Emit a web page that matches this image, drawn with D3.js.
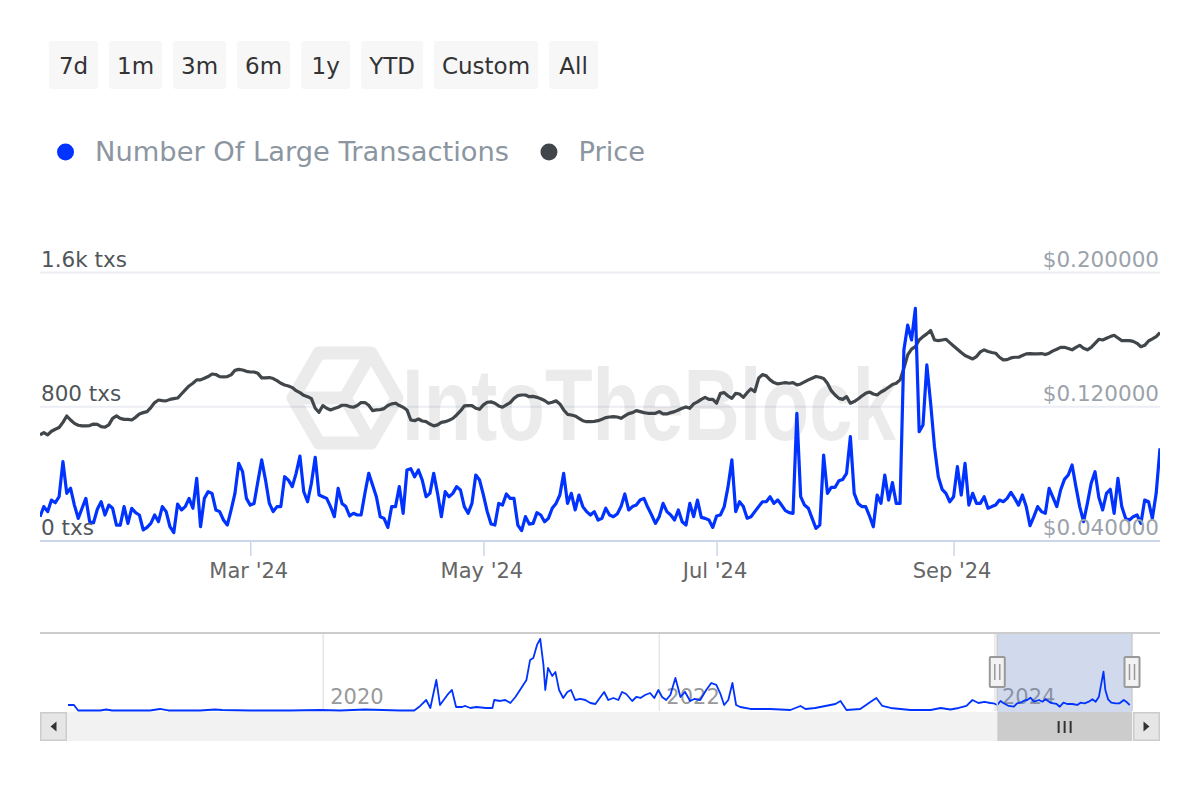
<!DOCTYPE html>
<html lang="en">
<head>
    <meta charset="UTF-8">
    <title>Number Of Large Transactions vs Price</title>
    <script src="https://d3js.org/d3.v7.min.js"></script>
    <style>
        body {
            margin: 0;
            background: #fff;
        }

        svg {
            display: block;
            font-family: "DejaVu Sans", Verdana, sans-serif;
        }
    </style>
</head>
<body>
    <div id="chart"></div>

    <script>
        // Range selector + legend
        const rangeButtons = ['7d', '1m', '3m', '6m', '1y', 'YTD', 'Custom', 'All'];
        const legendNames = ['Number Of Large Transactions', 'Price'];
        const seriesColors = ['#0033ff', '#41464b'];

        // Daily series, first day 2024-01-06
        const startDate = '2024-01-06';
        const endDate = '2024-10-25';

        const largeTxs = [
            145, 205, 175, 244, 228, 264, 473, 284, 314, 214,
            135, 195, 254, 115, 109, 189, 234, 155, 214, 195,
            95, 95, 205, 105, 195, 169, 155, 66, 81, 105,
            155, 115, 205, 175, 85, 50, 220, 185, 205, 254,
            195, 373, 85, 254, 294, 284, 185, 175, 125, 95,
            185, 284, 463, 413, 254, 214, 224, 354, 483, 363,
            224, 175, 205, 205, 383, 363, 324, 403, 506, 294,
            234, 344, 499, 274, 264, 254, 205, 145, 314, 224,
            205, 149, 165, 155, 155, 284, 403, 334, 264, 145,
            135, 81, 205, 205, 324, 165, 423, 431, 383, 423,
            363, 264, 284, 403, 284, 145, 294, 264, 284, 324,
            304, 205, 165, 224, 393, 363, 274, 175, 101, 95,
            224, 214, 280, 254, 254, 95, 62, 145, 101, 105,
            169, 155, 115, 135, 195, 224, 274, 403, 224, 284,
            185, 274, 205, 175, 155, 175, 125, 135, 195, 155,
            145, 161, 205, 280, 185, 205, 214, 244, 254, 201,
            155, 105, 145, 224, 175, 155, 125, 185, 115, 95,
            224, 145, 244, 141, 135, 125, 81, 149, 155, 205,
            324, 483, 175, 234, 205, 135, 145, 175, 205, 234,
            234, 264, 224, 244, 214, 181, 169, 165, 761, 264,
            214, 195, 135, 75, 95, 512, 284, 320, 320, 359,
            367, 403, 622, 284, 224, 205, 205, 149, 85, 274,
            224, 393, 244, 348, 224, 224, 1138, 1287, 1198, 1386,
            651, 691, 1049, 820, 562, 383, 308, 284, 234, 264,
            443, 274, 463, 214, 284, 224, 224, 264, 195, 205,
            214, 244, 234, 254, 290, 254, 214, 274, 205, 91,
            145, 205, 175, 165, 314, 260, 205, 304, 367, 393,
            453, 324, 205, 115, 224, 344, 413, 260, 185, 284,
            308, 165, 373, 205, 135, 125, 145, 155, 105, 244,
            234, 135, 284, 552
        ];

        const price = [
            0.1032, 0.1046, 0.1032, 0.1054, 0.1066, 0.1076, 0.1107, 0.1145, 0.1121, 0.1101,
            0.1090, 0.1086, 0.1086, 0.1088, 0.1097, 0.1095, 0.1082, 0.1078, 0.1092, 0.1131,
            0.1145, 0.1131, 0.1125, 0.1125, 0.1121, 0.1137, 0.1157, 0.1165, 0.1171, 0.1195,
            0.1225, 0.1240, 0.1237, 0.1235, 0.1244, 0.1248, 0.1252, 0.1276, 0.1300, 0.1324,
            0.1340, 0.1360, 0.1360, 0.1370, 0.1380, 0.1395, 0.1392, 0.1380, 0.1378, 0.1380,
            0.1390, 0.1417, 0.1423, 0.1419, 0.1411, 0.1407, 0.1407, 0.1399, 0.1372, 0.1372,
            0.1374, 0.1368, 0.1356, 0.1340, 0.1330, 0.1324, 0.1314, 0.1296, 0.1284, 0.1268,
            0.1260, 0.1248, 0.1191, 0.1167, 0.1207, 0.1191, 0.1181, 0.1189, 0.1197, 0.1209,
            0.1209, 0.1201, 0.1197, 0.1207, 0.1225, 0.1225, 0.1209, 0.1177, 0.1181, 0.1183,
            0.1189, 0.1207, 0.1217, 0.1221, 0.1207, 0.1197, 0.1181, 0.1121, 0.1117, 0.1127,
            0.1115, 0.1111, 0.1097, 0.1086, 0.1092, 0.1107, 0.1111, 0.1119, 0.1131, 0.1151,
            0.1175, 0.1205, 0.1207, 0.1207, 0.1191, 0.1185, 0.1211, 0.1227, 0.1229, 0.1221,
            0.1205, 0.1197, 0.1211, 0.1225, 0.1250, 0.1266, 0.1270, 0.1270, 0.1260, 0.1262,
            0.1256, 0.1248, 0.1237, 0.1221, 0.1227, 0.1235, 0.1217, 0.1181, 0.1155, 0.1151,
            0.1145, 0.1131, 0.1117, 0.1111, 0.1111, 0.1113, 0.1117, 0.1125, 0.1135, 0.1139,
            0.1141, 0.1139, 0.1131, 0.1145, 0.1159, 0.1165, 0.1177, 0.1171, 0.1165, 0.1161,
            0.1161, 0.1161, 0.1171, 0.1157, 0.1157, 0.1165, 0.1171, 0.1181, 0.1191, 0.1199,
            0.1191, 0.1217, 0.1229, 0.1244, 0.1256, 0.1244, 0.1244, 0.1221, 0.1280, 0.1284,
            0.1264, 0.1250, 0.1280, 0.1276, 0.1256, 0.1284, 0.1306, 0.1290, 0.1370, 0.1392,
            0.1384, 0.1360, 0.1344, 0.1336, 0.1340, 0.1344, 0.1340, 0.1344, 0.1330, 0.1336,
            0.1348, 0.1360, 0.1370, 0.1380, 0.1376, 0.1368, 0.1340, 0.1296, 0.1270, 0.1250,
            0.1244, 0.1260, 0.1221, 0.1231, 0.1246, 0.1264, 0.1280, 0.1288, 0.1276, 0.1270,
            0.1288, 0.1300, 0.1316, 0.1332, 0.1340, 0.1360, 0.1429, 0.1509, 0.1543, 0.1558,
            0.1598, 0.1618, 0.1634, 0.1654, 0.1598, 0.1594, 0.1598, 0.1602, 0.1582, 0.1562,
            0.1543, 0.1523, 0.1505, 0.1495, 0.1485, 0.1499, 0.1527, 0.1539, 0.1529, 0.1523,
            0.1519, 0.1495, 0.1479, 0.1481, 0.1491, 0.1495, 0.1495, 0.1505, 0.1515, 0.1517,
            0.1515, 0.1515, 0.1517, 0.1511, 0.1519, 0.1533, 0.1543, 0.1554, 0.1554, 0.1547,
            0.1539, 0.1554, 0.1566, 0.1548, 0.1539, 0.1554, 0.1578, 0.1602, 0.1598, 0.1608,
            0.1618, 0.1626, 0.1610, 0.1594, 0.1594, 0.1594, 0.1590, 0.1578, 0.1558, 0.1566,
            0.1592, 0.1604, 0.1618, 0.1642
        ];

        // Axis ticks
        const xTickDates = ['2024-03-01', '2024-05-01', '2024-07-01', '2024-09-01'];
        const txTicks = [0, 800, 1600];
        const txTickLabels = ['0 txs', '800 txs', '1.6k txs'];
        const priceTicks = [0.04, 0.12, 0.2];

        // Navigator (full history), days counted from navStart
        const navStart = '2018-06-25';
        const navEnd = '2024-10-25';
        const navDays = [
            0, 13, 22, 70, 83, 96, 178, 200, 218, 287,
            320, 335, 396, 483, 548, 592, 646, 722, 753, 766,
            779, 788, 801, 809, 825, 835, 844, 857, 864, 875,
            888, 909, 923, 927, 940, 951, 962, 973, 983, 997,
            1005, 1012, 1020, 1027, 1034, 1038, 1044, 1053, 1060, 1068,
            1077, 1086, 1094, 1103, 1114, 1125, 1136, 1147, 1158, 1166,
            1175, 1186, 1197, 1205, 1214, 1227, 1236, 1245, 1255, 1266,
            1275, 1284, 1292, 1301, 1310, 1321, 1332, 1342, 1353, 1362,
            1375, 1388, 1399, 1410, 1419, 1427, 1436, 1445, 1453, 1462,
            1484, 1527, 1571, 1593, 1604, 1625, 1669, 1680, 1693, 1723,
            1745, 1758, 1771, 1789, 1832, 1876, 1898, 1919, 1937, 1954,
            1967, 1980, 1993, 2006, 2013, 2021, 2028, 2035, 2046, 2057,
            2064, 2071, 2079, 2086, 2093, 2101, 2112, 2119, 2126, 2137,
            2143, 2150, 2157, 2165, 2173, 2184, 2195, 2202, 2211, 2220,
            2228, 2235, 2242, 2246, 2252, 2256, 2262, 2269, 2278, 2287,
            2296, 2303, 2309
        ];
        const navValues = [
            212, 212, 18, 18, 53, 18, 18, 71, 18, 18,
            53, 35, 18, 18, 35, 18, 53, 18, 18, 177,
            388, 106, 1094, 212, 565, 741, 141, 141, 177, 106,
            141, 106, 106, 388, 353, 388, 282, 494, 741, 1094,
            1800, 1871, 2330, 2542, 1624, 741, 1518, 1236, 1377, 741,
            459, 671, 741, 388, 424, 388, 282, 247, 494, 671,
            388, 459, 388, 671, 600, 353, 494, 459, 565, 635,
            459, 741, 494, 388, 565, 1165, 494, 671, 353, 424,
            388, 741, 988, 918, 600, 212, 388, 988, 212, 141,
            71, 71, 35, 177, 71, 106, 247, 353, 35, 71,
            318, 459, 177, 106, 35, 35, 106, 53, 106, 177,
            388, 282, 318, 282, 272, 212, 353, 272, 177, 152,
            272, 293, 364, 388, 470, 328, 388, 328, 413, 293,
            272, 247, 152, 293, 247, 247, 212, 293, 272, 328,
            413, 328, 505, 858, 1387, 741, 413, 293, 272, 272,
            388, 307, 212
        ];
        const navYearTicks = ['2020-01-01', '2022-01-01', '2024-01-01'];

        const parseDay = d3.utcParse('%Y-%m-%d');
        const dates = largeTxs.map((_, i) => d3.utcDay.offset(parseDay(startDate), i));
        const navDates = navDays.map(d => d3.utcDay.offset(parseDay(navStart), d));

        const svg = d3.select('#chart').append('svg')
            .attr('width', 1200)
            .attr('height', 800);

        // ---- range selector buttons
        let bx = 49;
        rangeButtons.forEach(label => {
            const g = svg.append('g');
            const rect = g.append('rect')
                .attr('y', 41).attr('height', 48).attr('rx', 3)
                .attr('fill', '#f7f7f7');
            const t = g.append('text')
                .attr('y', 66)
                .attr('dominant-baseline', 'central')
                .attr('text-anchor', 'middle')
                .style('font-size', '23px')
                .attr('fill', '#333')
                .text(label);
            const w = Math.max(t.node().getComputedTextLength() + 16, 49);
            rect.attr('x', bx).attr('width', w);
            t.attr('x', bx + w / 2);
            bx += w + 11;
        });

        // ---- legend
        let lx = 65.5;
        legendNames.forEach((name, i) => {
            svg.append('circle')
                .attr('cx', lx).attr('cy', 152).attr('r', 8.5)
                .attr('fill', seriesColors[i]);
            const t = svg.append('text')
                .attr('x', lx + 29.5).attr('y', 151)
                .attr('dominant-baseline', 'central')
                .style('font-size', '27.3px')
                .attr('fill', '#8c96a1')
                .text(name);
            lx += 29.5 + t.node().getComputedTextLength() + 40;
        });

        // ---- main chart scales
        const plot = { left: 40, right: 1160, top: 272.5, bottom: 541 };

        const x = d3.scaleUtc()
            .domain([parseDay(startDate), parseDay(endDate)])
            .range([plot.left, plot.right]);
        const yTx = d3.scaleLinear().domain([0, 1600]).range([plot.bottom, plot.top]);
        const yPrice = d3.scaleLinear().domain([0.04, 0.2]).range([plot.bottom, plot.top]);

        // gridlines
        svg.append('g').selectAll('line')
            .data(txTicks.slice(1))
            .enter().append('line')
            .attr('x1', plot.left).attr('x2', plot.right)
            .attr('y1', d => yTx(d)).attr('y2', d => yTx(d))
            .attr('stroke', '#eceef4')
            .attr('stroke-width', 2);

        // watermark
        const wm = svg.append('g').attr('opacity', 0.075);
        const hex = d3.range(6).map(k => {
            const a = Math.PI / 3 * k;
            return [345 + 52 * Math.cos(a), 398 + 52 * Math.sin(a)];
        });
        wm.append('path')
            .attr('d', 'M' + hex.map(p => p.join(',')).join('L') + 'Z')
            .attr('fill', 'none').attr('stroke', '#000').attr('stroke-width', 13)
            .attr('stroke-linejoin', 'round');
        wm.append('path')
            .attr('d', `M${hex[1].join(',')}L345,398L${hex[3].join(',')}M345,398L${hex[5].join(',')}`)
            .attr('fill', 'none').attr('stroke', '#000').attr('stroke-width', 13);
        wm.append('text')
            .attr('transform', 'translate(402,440) scale(1,1.3)')
            .style('font-family', '"Liberation Sans", Arial, sans-serif')
            .style('font-weight', 'bold')
            .style('font-size', '78px')
            .attr('fill', '#000')
            .text('IntoTheBlock');

        // x axis
        const xAxis = d3.axisBottom(x)
            .tickValues(xTickDates.map(parseDay))
            .tickFormat(d3.utcFormat("%b '%y"))
            .tickSize(15)
            .tickPadding(7);
        const gx = svg.append('g')
            .attr('transform', `translate(0,${plot.bottom})`)
            .call(xAxis);
        gx.select('.domain').remove();
        gx.selectAll('.tick line').attr('stroke', '#ccd6eb').attr('stroke-width', 1.5);
        gx.selectAll('.tick text')
            .attr('fill', '#666')
            .attr('dx', -2)
            .style('font-size', '21px')
            .style('font-family', '"DejaVu Sans", Verdana, sans-serif');
        svg.append('line')
            .attr('x1', plot.left).attr('x2', plot.right)
            .attr('y1', plot.bottom).attr('y2', plot.bottom)
            .attr('stroke', '#ccd6eb').attr('stroke-width', 2);

        // series
        svg.append('clipPath').attr('id', 'plot-clip')
            .append('rect')
            .attr('x', plot.left).attr('y', plot.top - 10)
            .attr('width', plot.right - plot.left)
            .attr('height', plot.bottom - plot.top + 10);

        const series = svg.append('g').attr('clip-path', 'url(#plot-clip)');

        series.append('path')
            .datum(price)
            .attr('fill', 'none')
            .attr('stroke', seriesColors[1])
            .attr('stroke-width', 3.2)
            .attr('stroke-linejoin', 'round')
            .attr('d', d3.line().x((d, i) => x(dates[i])).y(d => yPrice(d)));

        series.append('path')
            .datum(largeTxs)
            .attr('fill', 'none')
            .attr('stroke', seriesColors[0])
            .attr('stroke-width', 3.2)
            .attr('stroke-linejoin', 'round')
            .attr('d', d3.line().x((d, i) => x(dates[i])).y(d => yTx(d)));

        // y labels (Highcharts style, above the gridline)
        svg.append('g').selectAll('text')
            .data(txTicks)
            .enter().append('text')
            .attr('x', plot.left + 1)
            .attr('y', d => yTx(d) - 6)
            .style('font-size', '21.5px')
            .attr('fill', '#50555a')
            .text((d, i) => txTickLabels[i]);

        svg.append('g').selectAll('text')
            .data(priceTicks)
            .enter().append('text')
            .attr('x', plot.right - 1)
            .attr('y', d => yPrice(d) - 6)
            .attr('text-anchor', 'end')
            .style('font-size', '21.5px')
            .attr('fill', '#9ba2aa')
            .text(d => d3.format('$.6f')(d));

        // ---- navigator
        const nav = { left: 68, right: 1132, top: 633, bottom: 711, sTop: 712, sBottom: 741 };
        const navX = d3.scaleUtc()
            .domain([parseDay(navStart), parseDay(navEnd)])
            .range([nav.left, nav.right]);
        const navY = d3.scaleLinear().domain([0, 2750]).range([nav.bottom, nav.top]);

        svg.append('g').selectAll('line')
            .data(navYearTicks.map(parseDay))
            .enter().append('line')
            .attr('x1', d => navX(d)).attr('x2', d => navX(d))
            .attr('y1', nav.top).attr('y2', nav.bottom)
            .attr('stroke', '#e6e6e6').attr('stroke-width', 1.5);

        svg.append('g').selectAll('text')
            .data(navYearTicks.map(parseDay))
            .enter().append('text')
            .attr('x', d => navX(d) + 7)
            .attr('y', 704)
            .style('font-size', '21px')
            .attr('fill', '#999')
            .text(d3.utcFormat('%Y'));

        const selL = navX(parseDay(startDate));
        const selR = navX(parseDay(endDate));

        svg.append('rect')
            .attr('x', selL).attr('y', nav.top)
            .attr('width', selR - selL).attr('height', nav.bottom - nav.top + 1)
            .attr('fill', 'rgba(102,133,194,0.3)');

        svg.append('path')
            .datum(navValues)
            .attr('fill', 'none')
            .attr('stroke', seriesColors[0])
            .attr('stroke-width', 1.8)
            .attr('stroke-linejoin', 'round')
            .attr('d', d3.line().x((d, i) => navX(navDates[i])).y(d => navY(d)));

        // outline
        svg.append('line')
            .attr('x1', 40).attr('x2', 1160)
            .attr('y1', nav.top).attr('y2', nav.top)
            .attr('stroke', '#cccccc').attr('stroke-width', 2);
        [selL, selR].forEach(sx => {
            svg.append('line')
                .attr('x1', sx).attr('x2', sx)
                .attr('y1', nav.top).attr('y2', nav.bottom)
                .attr('stroke', '#cccccc').attr('stroke-width', 1.5);
        });

        // scrollbar
        svg.append('rect')
            .attr('x', 40).attr('y', nav.sTop)
            .attr('width', 1120).attr('height', nav.sBottom - nav.sTop)
            .attr('fill', '#f2f2f2');
        svg.append('rect')
            .attr('x', selL).attr('y', nav.sTop)
            .attr('width', selR - selL).attr('height', nav.sBottom - nav.sTop)
            .attr('fill', '#cccccc');
        const midS = (selL + selR) / 2;
        [-6, 0, 6].forEach(o => {
            svg.append('line')
                .attr('x1', midS + o).attr('x2', midS + o)
                .attr('y1', 721).attr('y2', 733)
                .attr('stroke', '#333').attr('stroke-width', 2);
        });
        [[40, -1], [1133, 1]].forEach(([bx0, dir]) => {
            svg.append('rect')
                .attr('x', bx0 + 0.75).attr('y', nav.sTop + 0.75)
                .attr('width', 25.5).attr('height', nav.sBottom - nav.sTop - 1.5)
                .attr('fill', '#e6e6e6').attr('stroke', '#cccccc').attr('stroke-width', 1.5);
            const cx = bx0 + 13.5, cy = (nav.sTop + nav.sBottom) / 2;
            svg.append('path')
                .attr('d', `M${cx + 3 * dir},${cy}L${cx - 3 * dir},${cy - 5}L${cx - 3 * dir},${cy + 5}Z`)
                .attr('fill', '#333');
        });

        // handles
        [selL, selR].forEach(hx => {
            svg.append('rect')
                .attr('x', hx - 7.5).attr('y', 657)
                .attr('width', 15).attr('height', 30).attr('rx', 1)
                .attr('fill', '#f2f2f2').attr('stroke', '#999').attr('stroke-width', 2);
            [-2.5, 2.5].forEach(o => {
                svg.append('line')
                    .attr('x1', hx + o).attr('x2', hx + o)
                    .attr('y1', 664).attr('y2', 680)
                    .attr('stroke', '#999').attr('stroke-width', 1.5);
            });
        });
    </script>
</body>
</html>
